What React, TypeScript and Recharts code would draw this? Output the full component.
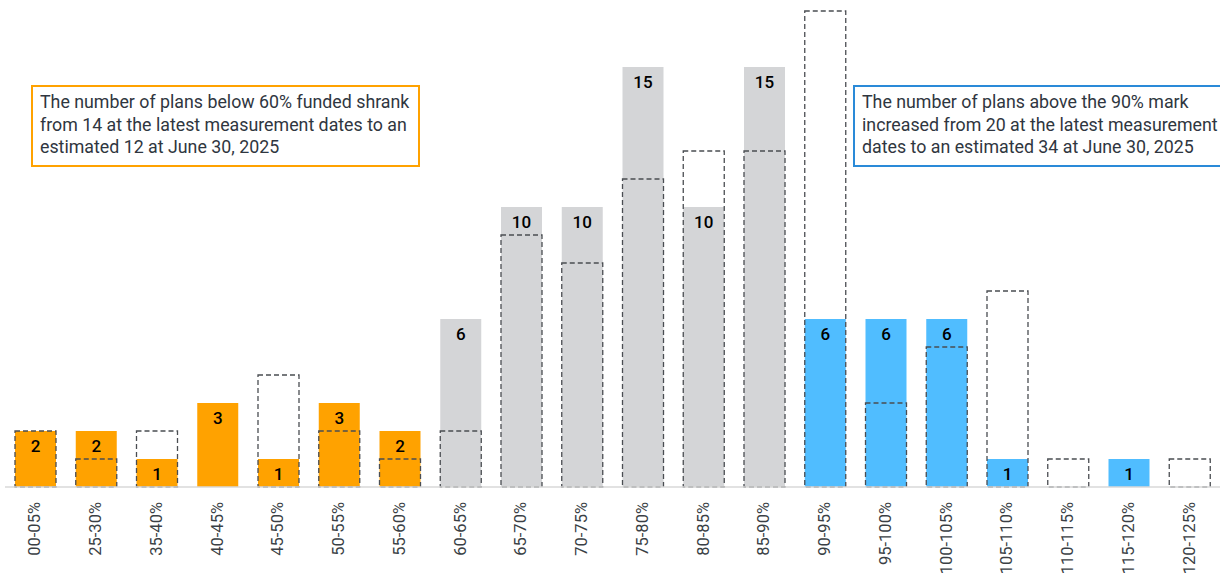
import { Bar, BarChart, Cell, LabelList, XAxis, YAxis } from "recharts";

const CATEGORIES = [
  "00-05%", "25-30%", "35-40%", "40-45%", "45-50%", "50-55%", "55-60%",
  "60-65%", "65-70%", "70-75%", "75-80%", "80-85%", "85-90%",
  "90-95%", "95-100%", "100-105%", "105-110%", "110-115%", "115-120%", "120-125%",
];

// plans at the latest measurement dates (filled bars)
const LATEST = [2, 2, 1, 3, 1, 3, 2, 6, 10, 10, 15, 10, 15, 6, 6, 6, 1, 0, 1, 0];

// estimated at June 30, 2025 (dashed outline bars)
const ESTIMATED = [2, 1, 2, 0, 4, 2, 1, 2, 9, 8, 11, 12, 12, 17, 3, 5, 7, 1, 0, 1];

const ORANGE = "#ffa200";
const GRAY = "#d4d5d7";
const BLUE = "#50bdff";

const FONT = "Roboto, 'Noto Sans', sans-serif";

const data = CATEGORIES.map((name, i) => ({
  name,
  latest: LATEST[i],
  estimated: ESTIMATED[i],
}));

function barColor(i: number) {
  if (i < 7) return ORANGE;
  if (i < 13) return GRAY;
  return BLUE;
}

function RotatedTick({ x, y, payload }: any) {
  return (
    <g transform={`translate(${x - 1},${y + 7})`}>
      <text
        transform="rotate(-90)"
        textAnchor="end"
        dy="0.36em"
        fontSize={16.5}
        fontFamily={FONT}
        fill="#3a3f45"
      >
        {payload.value}
      </text>
    </g>
  );
}

const boxText: React.CSSProperties = {
  position: "absolute",
  top: 85,
  height: 82,
  boxSizing: "border-box",
  padding: "4px 0 0 7px",
  fontFamily: FONT,
  fontSize: 17.8,
  lineHeight: "22.7px",
  color: "#2f3640",
  background: "#fff",
  whiteSpace: "nowrap",
};

export default function App() {
  return (
    <div style={{ position: "absolute", left: 0, top: 0, width: 1220, height: 576, overflow: "hidden", background: "#fff" }}>
      <BarChart
        width={1220}
        height={576}
        data={data}
        margin={{ top: 11, right: 0, bottom: 0, left: 5 }}
        barSize={41}
        barGap={-41}
      >
        <XAxis
          dataKey="name"
          interval={0}
          height={89}
          tickLine={false}
          axisLine={{ stroke: "#d9d9d9", strokeWidth: 1.5 }}
          tick={<RotatedTick />}
        />
        <YAxis hide domain={[0, 17]} />
        <Bar dataKey="latest" isAnimationActive={false}>
          {data.map((d, i) => (
            <Cell key={d.name} fill={barColor(i)} />
          ))}
          <LabelList
            dataKey="latest"
            position="insideTop"
            offset={9}
            formatter={(v: number) => (v ? v : "")}
            style={{ fontSize: 17, fontFamily: FONT, fill: "#000", fontWeight: 500 }}
          />
        </Bar>
        <Bar
          dataKey="estimated"
          isAnimationActive={false}
          fill="none"
          stroke="#4a4d52"
          strokeWidth={1.3}
          strokeDasharray="5 3"
        />
      </BarChart>

      <div style={{ ...boxText, left: 31, width: 389, border: `2px solid ${ORANGE}` }}>
        The number of plans below 60% funded shrank
        <br />
        from 14 at the latest measurement dates to an
        <br />
        estimated 12 at June 30, 2025
      </div>
      <div style={{ ...boxText, left: 853, width: 380, border: "2px solid #2a8ad8" }}>
        The number of plans above the 90% mark
        <br />
        increased from 20 at the latest measurement
        <br />
        dates to an estimated 34 at June 30, 2025
      </div>
    </div>
  );
}
